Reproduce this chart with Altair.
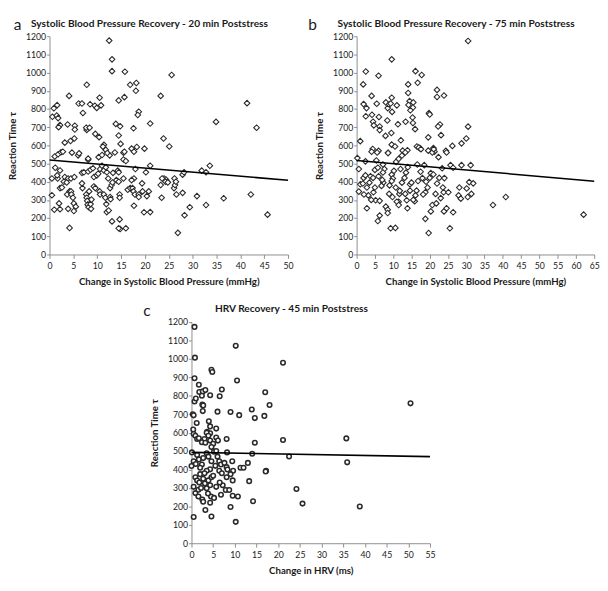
import altair as alt
import pandas as pd

# ---------------- data ----------------
# Panel a: Systolic BP change (mmHg) vs reaction time, 20 min poststress
a_x = [12.5, 13.1, 13.1, 15.8, 25.6, 7.8, 16.9, 18.2, 18.1, 4.1, 23.3, 10.5, 15.7, 14.5, 1.6, 0.9, 6.1, 6.8, 8.5, 9.5,
       9.9, 10.8, 7.0, 18.7, 18.5, 0.6, 1.5, 1.8, 41.4, 34.9, 43.4, 2.2, 1.9, 3.8, 5.3, 5.3, 7.8, 7.7, 8.4, 13.9,
       14.8, 17.6, 21.1, 9.6, 10.4, 14.5, 3.2, 4.4, 5.2, 11.4, 11.2, 14.9, 18.3, 23.9, 25.1, 19.9, 17.2,
       1.1, 1.8, 2.4, 2.8, 4.7, 6.0, 6.2, 8.1, 8.1, 10.3, 11.8, 12.6, 11.0, 13.7, 15.5, 15.5, 15.7, 16.0, 17.7, 12.1,
       1.2, 0.5, 1.7, 2.2, 1.6, 3.2, 3.9, 4.5, 5.2, 6.8, 7.2, 8.1, 8.6, 9.1, 9.3, 9.9, 10.2, 10.6, 11.0, 11.4,
       11.8, 12.0, 12.3, 13.3, 14.3, 14.5, 15.5, 17.7, 18.0, 20.2, 21.1, 24.0, 24.4, 24.7, 26.2, 27.9, 28.2, 31.9, 32.8, 33.6,
       0.5, 2.2, 2.6, 3.0, 3.6, 3.7, 4.2, 4.5, 4.6, 4.9, 2.0, 2.2, 1.0, 5.1, 5.5, 3.9, 5.1, 4.2, 6.9, 6.8,
       7.7, 7.8, 7.9, 8.0, 8.2, 8.7, 8.6, 8.8, 8.3, 9.3, 9.6, 10.5, 10.6, 11.4, 11.7, 11.9, 12.0, 12.4, 12.7, 13.0,
       13.2, 12.7, 12.8, 13.1, 14.0, 14.5, 14.7, 14.7, 14.7, 14.8, 14.5, 16.0, 16.4, 16.9, 17.2, 17.4, 17.6, 17.9, 17.7, 18.7,
       18.7, 19.4, 19.5, 19.8, 20.4, 20.8, 21.1, 23.5, 23.3, 23.6, 24.3, 24.8, 26.1, 26.3, 26.5, 26.6, 26.9, 27.9, 28.3, 29.4,
       30.9, 32.8, 36.5, 42.2, 45.7]
a_y = [1176, 1073, 1008, 1005, 987, 933, 933, 943, 900, 872, 872, 862, 865, 847, 821, 804, 830, 830, 826, 818,
       806, 820, 778, 785, 767, 757, 764, 750, 832, 729, 697, 711, 700, 715, 708, 687, 685, 697, 697, 718,
       705, 694, 720, 663, 645, 654, 615, 624, 638, 603, 593, 608, 591, 638, 594, 582, 582,
       539, 551, 562, 565, 560, 545, 556, 521, 527, 535, 575, 545, 547, 561, 560, 522, 565, 514, 565, 558,
       477, 418, 418, 462, 435, 426, 418, 418, 426, 449, 452, 456, 466, 474, 426, 435, 444, 470, 488, 462,
       479, 452, 418, 449, 461, 452, 418, 418, 470, 452, 488, 418, 412, 400, 418, 439, 452, 461, 452, 488,
       326, 365, 368, 400, 396, 330, 347, 347, 330, 312, 281, 249, 246, 281, 263, 251, 239, 146, 365, 391,
       330, 312, 295, 274, 260, 251, 277, 302, 347, 374, 365, 347, 330, 330, 312, 277, 233, 242, 365, 382,
       396, 316, 304, 182, 409, 400, 330, 312, 193, 140, 144, 144, 356, 365, 409, 365, 347, 330, 268, 330,
       316, 391, 347, 232, 321, 347, 233, 312, 382, 418, 400, 396, 365, 382, 400, 330, 119, 339, 216, 260,
       321, 272, 309, 330, 219]
a_line_x = [0, 50]
a_line_y = [520, 408]

# Panel b: Systolic BP change (mmHg) vs reaction time, 75 min poststress
b_x = [30.5, 9.6, 2.5, 6.0, 16.1, 17.8, 1.8, 14.1, 16.7, 22.0, 22.0, 23.9, 4.1, 9.6, 14.1, 1.9, 2.7, 5.5, 8.0, 8.5,
       8.9, 9.3, 11.0, 14.5, 14.2, 15.5, 15.4, 14.7, 9.7, 2.5, 4.2, 6.1, 15.3, 19.8, 20.0, 4.5, 8.4, 13.4, 15.4, 4.7,
       6.3, 6.3, 11.3, 16.0, 22.8, 22.3, 30.5, 7.9, 9.5, 23.1, 1.0, 12.1, 19.6, 30.0, 28.7, 9.6, 10.5, 4.4, 6.0, 8.6,
       12.6, 13.9, 16.5, 17.3, 19.6, 21.0, 21.3, 24.4, 26.2,
       0.2, 0.6, 0.6, 1.0, 1.7, 2.4, 1.9, 2.4, 2.8, 3.2, 2.8, 3.8, 4.5, 4.1, 5.6, 5.0, 5.4, 5.8, 5.0, 4.6,
       5.2, 6.3, 5.8, 6.3, 7.2, 7.6, 7.2, 7.3, 6.8, 8.0, 8.5, 8.5, 8.6, 9.6, 9.9, 9.6, 8.9, 9.8, 9.3, 10.6,
       10.8, 11.5, 10.7, 11.7, 11.5, 11.0, 11.5, 12.4, 13.3, 13.1, 12.4, 13.3, 13.7, 13.9, 14.6, 14.6, 15.0, 15.9, 16.1, 16.4,
       16.8, 16.6, 17.0, 17.6, 18.5, 18.8, 19.4, 18.8, 19.7, 20.0, 20.3, 20.3, 20.7, 20.7, 21.1, 21.6, 21.8, 22.4, 22.6, 23.4,
       23.6, 23.8, 23.9, 24.6, 24.6, 25.1, 25.5, 25.7, 26.4, 26.4, 28.1, 27.9, 28.5, 28.7, 30.1, 30.4, 31.2, 30.8, 31.9, 31.4,
       37.3, 40.8, 62.1,
       3.5, 6.0, 7.0, 10.2, 12.0, 13.5, 14.0, 17.5, 18.0, 19.0, 21.0, 22.0, 23.0, 24.0, 15.5, 11.8, 9.0, 4.0, 2.0, 18.2]
b_y = [1174, 1073, 1006, 983, 1008, 987, 935, 935, 944, 905, 866, 874, 872, 862, 888, 827, 805, 829, 836, 805,
       826, 830, 820, 843, 822, 836, 808, 793, 784, 760, 768, 756, 753, 777, 770, 730, 737, 730, 723, 710,
       704, 684, 716, 689, 715, 704, 703, 652, 668, 656, 623, 628, 644, 638, 611, 604, 594, 580, 570, 559,
       571, 573, 594, 585, 571, 585, 565, 570, 597,
       530, 470, 346, 386, 390, 512, 421, 435, 368, 325, 254, 430, 421, 565, 561, 465, 517, 477, 368, 342,
       298, 295, 184, 214, 495, 470, 451, 395, 377, 263, 246, 228, 558, 439, 418, 404, 333, 316, 144, 146,
       509, 526, 368, 333, 290, 290, 272, 544, 561, 421, 395, 333, 298, 254, 386, 351, 395, 293, 325, 351,
       404, 495, 588, 579, 491, 342, 368, 196, 118, 421, 447, 237, 272, 561, 579, 333, 281, 535, 421, 474,
       368, 342, 237, 254, 561, 342, 144, 491, 477, 232, 368, 325, 307, 491, 363, 316, 491, 398, 391, 333,
       272, 316, 219,
       395, 430, 410, 460, 470, 450, 480, 455, 420, 400, 440, 390, 310, 420, 300, 350, 380, 300, 330, 330]
b_line_x = [0, 65]
b_line_y = [517, 403]

# Panel c: HRV change (ms) vs reaction time, 45 min poststress
c_x = [0.7, 0.8, 10.2, 21.1, 4.6, 4.8, 0.7, 10.5, 1.7, 1.8, 2.6, 3.2, 7.0, 17.0, 0.7, 1.0, 2.4, 4.3, 6.5, 2.5,
       2.7, 18.0, 2.6, 6.0, 9.0, 13.9, 50.5, 0.3, 0.5, 11.0, 14.6, 16.8, 1.2, 4.0, 4.3, 5.7, 0.4, 3.6, 4.3, 0.5,
       0.9, 1.3, 1.7, 3.5, 3.9, 4.3, 3.0, 2.4, 3.2, 5.0, 4.6, 5.7, 6.1, 8.1, 14.6, 21.1, 35.7, 0.1, 0.5, 0.0,
       1.3, 1.7, 2.4, 2.7, 3.5, 3.9, 4.6, 4.3, 5.2, 5.7, 6.4, 6.8, 7.6, 8.1, 8.3, 8.2, 9.4, 9.6, 11.3, 12.0,
       13.0, 14.0, 17.2, 22.5, 35.9, 0.9, 1.3, 0.5, 0.9, 1.6, 1.6, 2.0, 2.7, 3.1, 3.5, 2.5, 2.7, 3.2, 3.5, 3.9,
       4.3, 4.3, 4.6, 5.0, 4.5, 4.6, 5.2, 5.7, 6.4, 6.8, 7.2, 7.9, 8.7, 8.1, 9.0, 9.0, 9.5, 10.2, 10.7, 9.5,
       13.3, 14.2, 17.1, 24.2, 25.6, 38.8, 0.5, 1.0, 2.0, 3.0, 1.8, 5.5, 6.0, 7.0, 2.2, 3.8, 6.5]
c_y = [1174, 1007, 1071, 979, 941, 929, 895, 883, 860, 821, 824, 831, 834, 819, 769, 785, 800, 803, 798, 752,
       748, 750, 717, 714, 712, 726, 759, 700, 694, 695, 679, 691, 652, 662, 634, 622, 617, 605, 597, 593,
       583, 566, 570, 600, 583, 557, 566, 548, 545, 540, 522, 574, 557, 566, 545, 560, 569, 493, 445, 419,
       479, 455, 427, 462, 488, 470, 445, 401, 497, 500, 445, 427, 436, 413, 400, 493, 445, 393, 410, 410,
       436, 486, 393, 471, 439, 358, 340, 306, 272, 254, 290, 375, 350, 324, 298, 237, 225, 180, 393, 341,
       315, 220, 358, 366, 254, 145, 246, 306, 393, 263, 315, 289, 289, 358, 375, 197, 258, 116, 254, 341,
       337, 228, 389, 294, 215, 199, 142, 430, 410, 380, 330, 420, 470, 380, 300, 270, 330]
c_line_x = [0, 55]
c_line_y = [493, 470]

y_ticks = list(range(0, 1201, 100))

FONT = "Lato"
AXIS_GREY = "#8c8c8c"
TEXT = "#1a1a1a"


def panel(xs, ys, lx, ly, title, xtitle, xmax, shape, size, stroke_w, w, h, letter, letter_dx):
    pts_df = pd.DataFrame({"x": xs, "y": ys})
    line_df = pd.DataFrame({"x": lx, "y": ly})
    xscale = alt.Scale(domain=[0, xmax], nice=False)
    yscale = alt.Scale(domain=[0, 1200], nice=False)
    xaxis = alt.Axis(values=list(range(0, xmax + 1, 5)), title=xtitle, grid=False, format="d",
                     domainColor=AXIS_GREY, tickColor=AXIS_GREY, tickSize=4,
                     labelFont=FONT, labelFontSize=9, labelColor=TEXT, labelPadding=4,
                     labelOverlap=False, labelFlush=False,
                     titleFont=FONT, titleFontSize=10, titleFontWeight="bold",
                     titleColor=TEXT, titlePadding=6)
    yaxis = alt.Axis(values=y_ticks, title="Reaction Time τ", grid=False, format="d",
                     domainColor=AXIS_GREY, tickColor=AXIS_GREY, tickSize=3,
                     labelFont=FONT, labelFontSize=9, labelColor=TEXT, labelPadding=1,
                     labelOverlap=False, labelFlush=False,
                     titleFont=FONT, titleFontSize=10, titleFontWeight="bold",
                     titleColor=TEXT, titlePadding=8)
    xenc = alt.X("x:Q", scale=xscale, axis=xaxis)
    yenc = alt.Y("y:Q", scale=yscale, axis=yaxis)
    pts = alt.Chart(pts_df).mark_point(
        shape=shape, size=size, filled=True, fill="white", stroke="#2a2a2a",
        strokeWidth=stroke_w, opacity=1
    ).encode(x=xenc, y=yenc)
    ln = alt.Chart(line_df).mark_line(color="black", strokeWidth=1.6).encode(x=xenc, y=yenc)
    lt = alt.Chart(pd.DataFrame({"t": [letter]})).mark_text(
        font=FONT, fontSize=16, align="left", baseline="middle", color=TEXT
    ).encode(x=alt.value(letter_dx), y=alt.value(-11), text="t:N")
    tt = alt.Chart(pd.DataFrame({"t": [title]})).mark_text(
        font=FONT, fontSize=10.5, fontWeight="bold", align="center", baseline="middle", color=TEXT
    ).encode(x=alt.value(w / 2 - 20), y=alt.value(-13), text="t:N")
    return alt.layer(pts, ln, lt, tt).properties(width=w, height=h)


pa = panel(a_x, a_y, a_line_x, a_line_y,
           "Systolic Blood Pressure Recovery - 20 min Poststress",
           "Change in Systolic Blood Pressure (mmHg)", 50, "diamond", 34, 1.1,
           247, 226, "a", -37)
pb = panel(b_x, b_y, b_line_x, b_line_y,
           "Systolic Blood Pressure Recovery - 75 min Poststress",
           "Change in Systolic Blood Pressure (mmHg)", 65, "diamond", 34, 1.1,
           246, 226, "b", -50)
pc = panel(c_x, c_y, c_line_x, c_line_y,
           "HRV Recovery - 45 min Poststress",
           "Change in HRV (ms)", 55, "circle", 22, 1.6,
           247, 229, "c", -50)

spacer = alt.Chart(pd.DataFrame({"v": [0]})).mark_rule(opacity=0, strokeWidth=0).encode(
    x=alt.value(0), y=alt.value(0), y2=alt.value(1)
).properties(width=97, height=1)

top = alt.hconcat(pa, pb, spacing=15)
bottom = alt.hconcat(spacer, pc, spacing=0)

chart = alt.vconcat(top, bottom, spacing=18).properties(
    padding=0, background="white"
).configure_view(strokeWidth=0)

chart.save("out.html", embed_options={"renderer": "svg", "actions": False})
